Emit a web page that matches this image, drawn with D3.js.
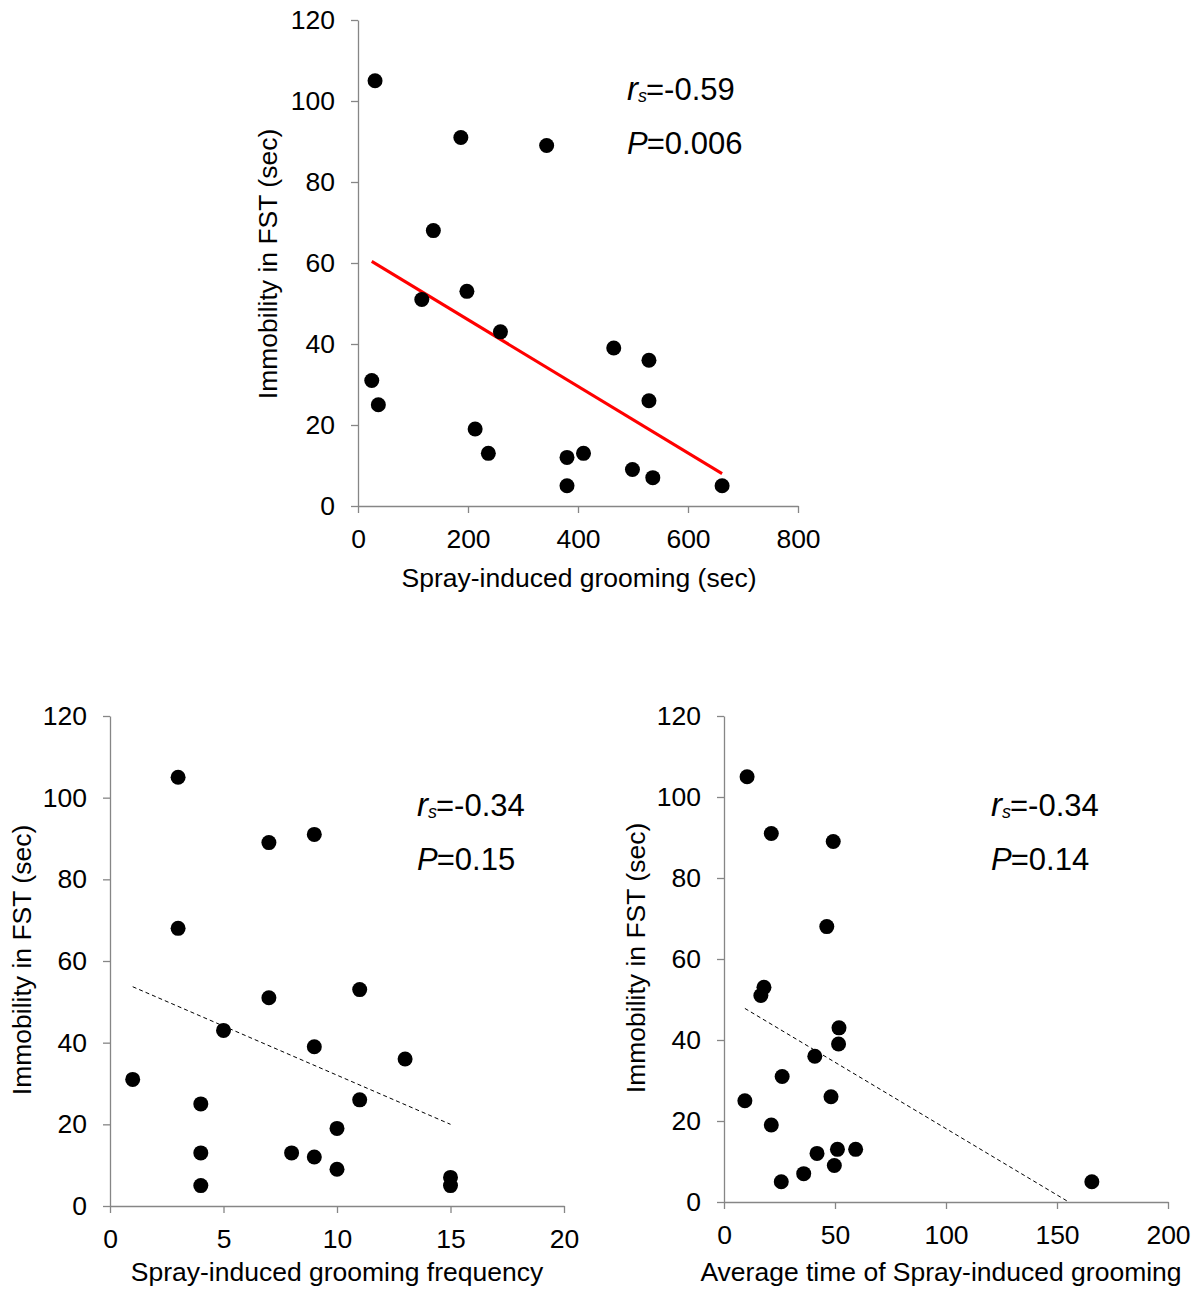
<!DOCTYPE html>
<html>
<head>
<meta charset="utf-8">
<script src="https://cdn.jsdelivr.net/npm/d3@7"></script>
<style>
  html, body { margin: 0; padding: 0; background: #fff; }
  svg { display: block; font-family: "Liberation Sans", Arial, sans-serif; }
</style>
</head>
<body>
<svg id="chart" width="1201" height="1290"></svg>
<script>
// ---------- DATA ----------
// Panel A: spray-induced grooming time (sec) vs immobility in FST (sec)
const groomTime   = [31, 187, 343, 137, 116, 198, 259, 25, 37, 213, 237, 380, 380, 410, 465, 529, 529, 499, 536, 662];
const immobA      = [105, 91, 89, 68, 51, 53, 43, 31, 25, 19, 13, 12, 5, 13, 39, 36, 26, 9, 7, 5];
const trendA      = [[25, 60.4], [662, 8]];
const statsA      = ["-0.59", "0.006"];
const ticksXA     = [0, 200, 400, 600, 800];

// Panel B: spray-induced grooming frequency vs immobility
const groomFreq   = [3, 9, 7, 3, 7, 11, 5, 9, 13, 1, 4, 11, 10, 4, 8, 9, 10, 4, 15, 15];
const immobB      = [105, 91, 89, 68, 51, 53, 43, 39, 36, 31, 25, 26, 19, 13, 13, 12, 9, 5, 7, 5];
const trendB      = [[1, 53.7], [15, 20]];
const statsB      = ["-0.34", "0.15"];
const ticksXB     = [0, 5, 10, 15, 20];

// Panel C: average time of spray-induced grooming vs immobility
const groomAvg    = [10.4, 21.3, 49.2, 46.3, 18, 16.6, 51.8, 51.6, 40.9, 26.2, 9.4, 48.2, 21.3, 41.9, 51.1, 59.3, 49.7, 35.9, 25.8, 165.7];
const immobC      = [105, 91, 89, 68, 53, 51, 43, 39, 36, 31, 25, 26, 19, 12, 13, 13, 9, 7, 5, 5];
const trendC      = [[9.4, 47.8], [155.3, 0]];
const statsC      = ["-0.34", "0.14"];
const ticksXC     = [0, 50, 100, 150, 200];

const ticksY      = [0, 20, 40, 60, 80, 100, 120];
const yTitle      = "Immobility in FST (sec)";
const xTitles     = ["Spray-induced grooming (sec)", "Spray-induced grooming frequency", "Average time of Spray-induced grooming"];

// ---------- DRAW ----------
const svg = d3.select("#chart");
const AXIS = "#868686";
const FS = "26.5px";

function panel(cfg) {
  const x = d3.scaleLinear().domain([cfg.ticksX[0], cfg.ticksX[cfg.ticksX.length - 1]]).range([cfg.left, cfg.right]);
  const y = d3.scaleLinear().domain([0, 120]).range([cfg.bottom, cfg.top]);
  const g = svg.append("g");

  const xa = g.append("g").attr("transform", `translate(0,${cfg.bottom})`)
    .call(d3.axisBottom(x).tickValues(cfg.ticksX).tickSize(7).tickSizeOuter(0).tickPadding(16).tickFormat(d3.format("d")));
  const ya = g.append("g").attr("transform", `translate(${cfg.left},0)`)
    .call(d3.axisLeft(y).tickValues(ticksY).tickSize(7).tickSizeOuter(0).tickPadding(16).tickFormat(d3.format("d")));
  [xa, ya].forEach(a => {
    a.select(".domain").attr("stroke", AXIS).attr("stroke-width", 1.3);
    a.selectAll(".tick line").attr("stroke", AXIS).attr("stroke-width", 1.3);
    a.selectAll(".tick text").attr("fill", "#000").style("font-size", FS).style("font-family", "'Liberation Sans', Arial, sans-serif");
  });

  // trend line
  const line = d3.line().x(d => x(d[0])).y(d => y(d[1]));
  g.append("path").datum(cfg.trend).attr("d", line).attr("fill", "none")
    .attr("stroke", cfg.trendColor).attr("stroke-width", cfg.trendWidth)
    .attr("stroke-dasharray", cfg.dash || null);

  // points
  g.selectAll("circle.pt").data(cfg.xs.map((v, i) => [v, cfg.ys[i]])).join("circle")
    .attr("class", "pt").attr("cx", d => x(d[0])).attr("cy", d => y(d[1])).attr("r", 7.5).attr("fill", "#000");

  // titles
  g.append("text").attr("x", cfg.xTitleX).attr("y", cfg.xTitleY).attr("text-anchor", "middle")
    .style("font-size", FS).attr("fill", "#000").text(cfg.xTitle);
  g.append("text").attr("transform", `translate(${cfg.yTitleX},${cfg.yTitleY}) rotate(-90)`)
    .attr("text-anchor", "middle").attr("dy", "0.35em")
    .style("font-size", FS).attr("fill", "#000").text(yTitle);

  // stats annotation
  const t1 = g.append("text").attr("x", cfg.statX).attr("y", cfg.statY).style("font-size", "31px").attr("fill", "#000");
  t1.append("tspan").style("font-style", "italic").style("font-size", "33px").text("r");
  t1.append("tspan").style("font-style", "italic").style("font-size", "18px").attr("dy", 2).text("s");
  t1.append("tspan").attr("dy", -2).attr("dx", -1).text("=" + cfg.stats[0]);
  const t2 = g.append("text").attr("x", cfg.statX).attr("y", cfg.statY + 54).style("font-size", "31px").attr("fill", "#000");
  t2.append("tspan").style("font-style", "italic").text("P");
  t2.append("tspan").attr("dx", -1).text("=" + cfg.stats[1]);
}

panel({ left: 358, right: 798, top: 20, bottom: 506, ticksX: ticksXA, xs: groomTime, ys: immobA,
  trend: trendA, trendColor: "#ff0000", trendWidth: 3, xTitle: xTitles[0], xTitleX: 579, xTitleY: 587,
  yTitleX: 268, yTitleY: 264, stats: statsA, statX: 627, statY: 100 });

panel({ left: 110, right: 564, top: 716, bottom: 1206, ticksX: ticksXB, xs: groomFreq, ys: immobB,
  trend: trendB, trendColor: "#000", trendWidth: 1, dash: "4,3", xTitle: xTitles[1], xTitleX: 337, xTitleY: 1281,
  yTitleX: 22, yTitleY: 960, stats: statsB, statX: 417, statY: 816 });

panel({ left: 724, right: 1168, top: 716, bottom: 1202, ticksX: ticksXC, xs: groomAvg, ys: immobC,
  trend: trendC, trendColor: "#000", trendWidth: 1, dash: "4,3", xTitle: xTitles[2], xTitleX: 941, xTitleY: 1281,
  yTitleX: 636, yTitleY: 958, stats: statsC, statX: 991, statY: 816 });
</script>
</body>
</html>
